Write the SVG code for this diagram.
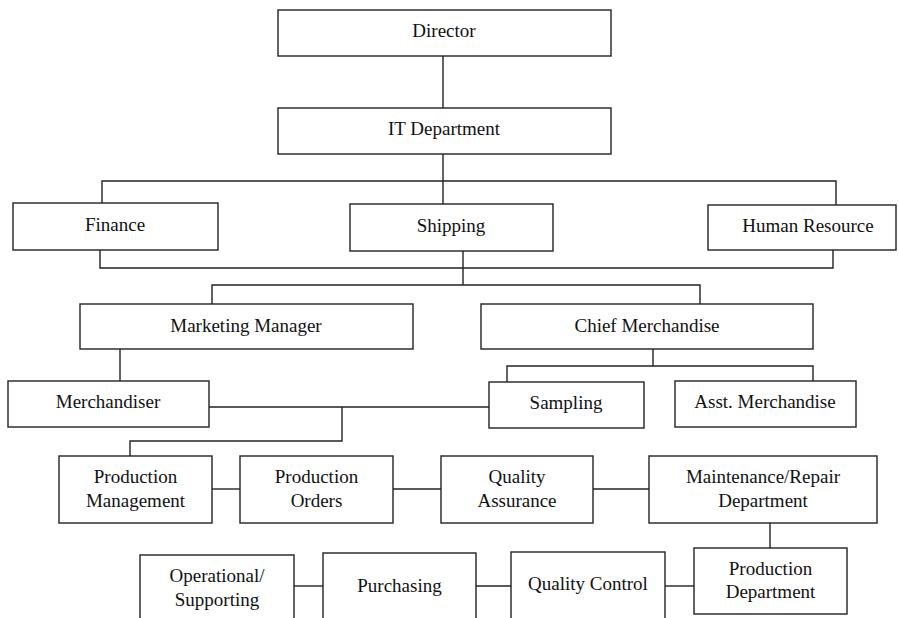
<svg xmlns="http://www.w3.org/2000/svg" width="899" height="618" viewBox="0 0 899 618">
<style>
rect{fill:#fff;stroke:#222;stroke-width:1.4}
#connectors path{fill:none;stroke:#222;stroke-width:1.4}
text{font-family:"Liberation Serif","Times New Roman",serif;font-size:19px;fill:#111;text-anchor:middle}
</style>
<rect x="0" y="0" width="899" height="618" style="stroke:none"/>
<g id="connectors">
<path d="M443,56 V108"/>
<path d="M443,154 V204"/>
<path d="M102,203 V181 H836 V205"/>
<path d="M100,250 V268 H833 V250"/>
<path d="M463,251 V285"/>
<path d="M212,304 V285 H700 V305"/>
<path d="M120,349 V381"/>
<path d="M653,349 V366"/>
<path d="M507,382 V366 H813 V381"/>
<path d="M209,407 H494"/>
<path d="M342,407 V441 H130 V456"/>
<path d="M212,489 H240"/>
<path d="M393,489 H441"/>
<path d="M593,489 H649"/>
<path d="M770,523 V548"/>
<path d="M294,586 H323"/>
<path d="M476,586 H511"/>
<path d="M665,586 H694"/>
</g>
<g id="director"><rect x="278" y="10" width="333" height="46"/><text x="444" y="37">Director</text></g>
<g id="it-department"><rect x="278" y="108" width="333" height="46"/><text x="444" y="135">IT Department</text></g>
<g id="finance"><rect x="13" y="203" width="205" height="47"/><text x="115" y="231">Finance</text></g>
<g id="shipping"><rect x="350" y="204" width="203" height="47"/><text x="451" y="232">Shipping</text></g>
<g id="human-resource"><rect x="708" y="205" width="188" height="45"/><text x="808" y="232">Human Resource</text></g>
<g id="marketing-manager"><rect x="80" y="304" width="333" height="45"/><text x="246" y="332">Marketing Manager</text></g>
<g id="chief-merchandise"><rect x="481" y="304" width="332" height="45"/><text x="647" y="332">Chief Merchandise</text></g>
<g id="merchandiser"><rect x="8" y="381" width="201" height="46"/><text x="108" y="408">Merchandiser</text></g>
<g id="sampling"><rect x="489" y="382" width="155" height="46"/><text x="566" y="409">Sampling</text></g>
<g id="asst-merchandise"><rect x="675" y="381" width="181" height="46"/><text x="765" y="408">Asst. Merchandise</text></g>
<g id="production-management"><rect x="59" y="456" width="153" height="67"/><text x="135.5" y="483">Production</text><text x="135.5" y="507">Management</text></g>
<g id="production-orders"><rect x="240" y="456" width="153" height="67"/><text x="316.5" y="483">Production</text><text x="316.5" y="507">Orders</text></g>
<g id="quality-assurance"><rect x="441" y="456" width="152" height="67"/><text x="517" y="483">Quality</text><text x="517" y="507">Assurance</text></g>
<g id="maintenance-repair"><rect x="649" y="456" width="228" height="67"/><text x="763" y="483">Maintenance/Repair</text><text x="763" y="507">Department</text></g>
<g id="operational-supporting"><rect x="140" y="555" width="154" height="80"/><text x="217" y="582">Operational/</text><text x="217" y="606">Supporting</text></g>
<g id="purchasing"><rect x="323" y="553" width="153" height="80"/><text x="399.5" y="592">Purchasing</text></g>
<g id="quality-control"><rect x="511" y="552" width="154" height="80"/><text x="588" y="590">Quality Control</text></g>
<g id="production-department"><rect x="694" y="548" width="153" height="66"/><text x="770.5" y="575">Production</text><text x="770.5" y="598">Department</text></g>
</svg>
